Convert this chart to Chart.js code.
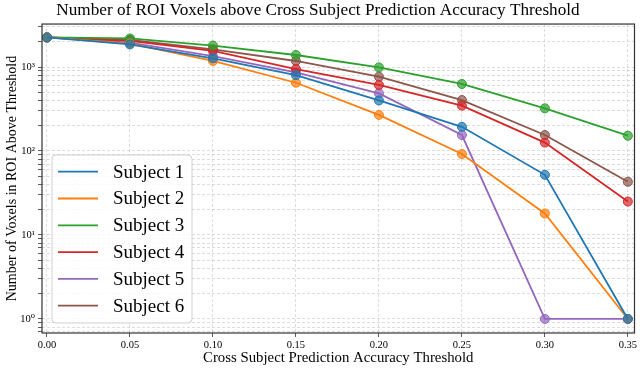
<!DOCTYPE html>
<html>
<head>
<meta charset="utf-8">
<script src="https://cdn.jsdelivr.net/npm/chart.js@4.4.1/dist/chart.umd.min.js"></script>
<style>
html,body{margin:0;padding:0;background:#fff;}
#wrap{width:640px;height:388px;}
</style>
</head>
<body>
<div id="wrap"><canvas id="c" width="640" height="388"></canvas></div>
<script>
const thresholds = [0.00, 0.05, 0.10, 0.15, 0.20, 0.25, 0.30, 0.35];
const subjectNames = ['Subject 1', 'Subject 2', 'Subject 3', 'Subject 4', 'Subject 5', 'Subject 6'];
const subject1 = [2250, 1860, 1270, 800, 400, 194, 52, 1];
const subject2 = [2250, 1900, 1180, 650, 269, 92, 18, 1];
const subject3 = [2250, 2190, 1800, 1390, 990, 628, 322, 152];
const subject4 = [2250, 2050, 1560, 946, 611, 347, 126, 25];
const subject5 = [2250, 1950, 1350, 864, 486, 155, 1, 1];
const subject6 = [2250, 2100, 1625, 1180, 767, 404, 155, 43];
const xTickValues = [0.00, 0.05, 0.10, 0.15, 0.20, 0.25, 0.30, 0.35];
const yTickValues = [1, 10, 100, 1000];
const yTickLabels = ['10\u2070', '10\u00b9', '10\u00b2', '10\u00b3'];
const colors = ['#1f77b4', '#ff7f0e', '#2ca02c', '#d62728', '#9467bd', '#8c564b'];

const series = [subject1, subject2, subject3, subject4, subject5, subject6];
const SERIF = "'Liberation Serif', 'Times New Roman', 'DejaVu Serif', serif";

function hexA(hex, a) {
  const n = parseInt(hex.slice(1), 16);
  return `rgba(${(n >> 16) & 255},${(n >> 8) & 255},${n & 255},${a})`;
}

// minor log ticks (matplotlib style: 1..9 x 10^k)
const yAllTicks = [];
for (let e = -1; e <= 3; e++) {
  for (let m = 1; m <= 9; m++) {
    const v = Math.round(m * Math.pow(10, e) * 1000) / 1000;
    if (v >= 0.68 && v <= 3250) yAllTicks.push(v);
  }
}

const datasets = series.map((d, i) => ({
  label: subjectNames[i],
  data: thresholds.map((x, j) => ({x: x, y: d[j]})),
  borderColor: colors[i],
  backgroundColor: hexA(colors[i], 0.7),
  pointBorderColor: colors[i],
  pointBackgroundColor: hexA(colors[i], 0.7),
  pointRadius: 4.5,
  pointBorderWidth: 1,
  borderWidth: 1.8,
  tension: 0
}));

const framePlugin = {
  id: 'frame',
  afterDraw(chart) {
    const {ctx, chartArea: a} = chart;
    ctx.save();
    ctx.strokeStyle = '#333';
    ctx.lineWidth = 1.2;
    ctx.strokeRect(a.left, a.top, a.right - a.left, a.bottom - a.top);
    // legend
    const lx = 52, ly = 155, lw = 140, lh = 168, r = 4;
    ctx.beginPath();
    ctx.moveTo(lx + r, ly);
    ctx.arcTo(lx + lw, ly, lx + lw, ly + lh, r);
    ctx.arcTo(lx + lw, ly + lh, lx, ly + lh, r);
    ctx.arcTo(lx, ly + lh, lx, ly, r);
    ctx.arcTo(lx, ly, lx + lw, ly, r);
    ctx.closePath();
    ctx.fillStyle = 'rgba(255,255,255,0.8)';
    ctx.fill();
    ctx.strokeStyle = 'rgba(204,204,204,0.9)';
    ctx.lineWidth = 1;
    ctx.stroke();
    ctx.font = '19px ' + SERIF;
    ctx.textBaseline = 'middle';
    ctx.textAlign = 'left';
    chart.data.datasets.forEach((ds, i) => {
      const y = 171.7 + i * 26.8;
      ctx.strokeStyle = ds.borderColor;
      ctx.lineWidth = 1.8;
      ctx.beginPath();
      ctx.moveTo(58, y);
      ctx.lineTo(98, y);
      ctx.stroke();
      ctx.fillStyle = '#000';
      ctx.fillText(ds.label, 113, y + 1);
    });
    ctx.restore();
  }
};

new Chart(document.getElementById('c'), {
  type: 'line',
  data: {datasets: datasets},
  plugins: [framePlugin],
  options: {
    responsive: false,
    animation: false,
    devicePixelRatio: 1,
    layout: {padding: {left: 0, right: 4, top: 0, bottom: 0}},
    plugins: {
      legend: {display: false},
      tooltip: {enabled: false},
      title: {
        display: true,
        text: 'Number of ROI Voxels above Cross Subject Prediction Accuracy Threshold',
        color: '#000',
        font: {family: SERIF, size: 17.2, weight: 'normal'},
        padding: {top: 0, bottom: 3.4}
      }
    },
    scales: {
      x: {
        type: 'linear',
        min: -0.003,
        max: 0.354,
        afterBuildTicks(scale) {
          scale.ticks = xTickValues.map(v => ({value: v}));
        },
        afterFit(scale) {
          scale.height = 55;
          scale.paddingLeft = 0;
          scale.paddingRight = 0;
        },
        ticks: {
          color: '#000',
          font: {family: SERIF, size: 10.5},
          padding: 2,
          maxRotation: 0,
          autoSkip: false,
          callback: (v) => Number(v).toFixed(2)
        },
        grid: {
          color: 'rgba(170,170,170,0.5)',
          tickColor: '#333',
          tickLength: 4,
          lineWidth: 0.8
        },
        border: {display: false, dash: [3, 2]},
        title: {
          display: true,
          text: 'Cross Subject Prediction Accuracy Threshold',
          color: '#000',
          font: {family: SERIF, size: 14.8},
          padding: {top: 0, bottom: 21}
        }
      },
      y: {
        type: 'logarithmic',
        min: 0.68,
        max: 3250,
        afterBuildTicks(scale) {
          scale.ticks = yAllTicks.map(v => ({value: v, major: yTickValues.includes(v)}));
        },
        afterFit(scale) {
          scale.width = 42;
        },
        ticks: {
          color: '#000',
          font: {family: SERIF, size: 10.5},
          padding: 3,
          autoSkip: false,
          callback: (v) => {
            const i = yTickValues.indexOf(v);
            return i >= 0 ? yTickLabels[i] : '';
          }
        },
        grid: {
          color: 'rgba(170,170,170,0.5)',
          tickColor: '#333',
          tickLength: 4,
          lineWidth: 0.8
        },
        border: {display: false, dash: [3, 2]},
        title: {
          display: true,
          text: 'Number of Voxels in ROI Above Threshold',
          color: '#000',
          font: {family: SERIF, size: 14},
          padding: {top: 4, bottom: 0}
        }
      }
    }
  }
});
</script>
</body>
</html>
